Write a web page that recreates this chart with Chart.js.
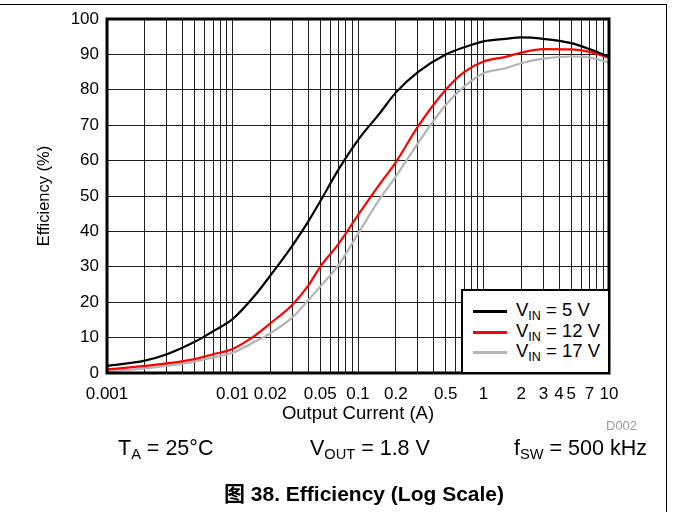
<!DOCTYPE html>
<html>
<head>
<meta charset="utf-8">
<script src="https://cdn.jsdelivr.net/npm/chart.js@4.4.1/dist/chart.umd.min.js"></script>
<style>
  html, body { margin: 0; padding: 0; background: #fff; }
  #wrap { position: relative; width: 673px; height: 512px; overflow: hidden; font-family: "Liberation Sans", Arial, sans-serif; color: #000; }
  #c { position: absolute; left: 0; top: 0; }
  .abs { position: absolute; white-space: nowrap; line-height: 1; }
  sub { font-size: 0.68em; vertical-align: -0.3em; line-height: 0; }
  #frameTop { position: absolute; left: 0; top: 4px; width: 667px; height: 0; border-top: 1px solid #000; }
  #frameRight { position: absolute; left: 666px; top: 4px; width: 0; height: 508px; border-left: 1px solid #000; }
  #legend { position: absolute; left: 461px; top: 289px; width: 145px; height: 81px; border: 2px solid #000; background: #fff; }
  .lrow { position: absolute; left: 0; height: 20px; }
  .lline { position: absolute; left: 10px; width: 34px; height: 3px; }
  .ltext { position: absolute; left: 53px; font-size: 18.5px; white-space: nowrap; line-height: 1; }
</style>
</head>
<body>
<div id="wrap">
  <canvas id="c" width="673" height="512"></canvas>
  <div id="frameTop"></div>
  <div id="frameRight"></div>
  <div id="legend"></div>
  <div class="abs" style="left:606px; top:419px; font-size:13px; color:#9a9a9a;">D002</div>
  <div class="abs" style="left:118px; top:438px; font-size:21.5px;">T<sub>A</sub> = 25°C</div>
  <div class="abs" style="left:310px; top:438px; font-size:21.5px;">V<sub>OUT</sub> = 1.8 V</div>
  <div class="abs" style="left:514px; top:438px; font-size:21.5px;">f<sub>SW</sub> = 500 kHz</div>
  <div class="abs" style="left:0; width:728px; text-align:center; top:483px; font-size:21px; font-weight:bold; font-family:'Liberation Sans', Arial, 'Noto Sans CJK SC', sans-serif;">图 38. Efficiency (Log Scale)</div>
</div>
<script>
// ---- data ----
const currentA = [0.001, 0.002, 0.003, 0.005, 0.007, 0.01, 0.015, 0.02, 0.03, 0.04, 0.05, 0.07, 0.1, 0.15, 0.2, 0.3, 0.5, 0.7, 1, 1.5, 2, 3, 5, 7, 10];
const eff5V  = [2.0, 3.5, 5.3, 8.8, 11.8, 15.2, 21.8, 27.5, 36.0, 42.7, 48.5, 57.5, 65.8, 73.5, 79.2, 85.0, 90.0, 92.0, 93.7, 94.4, 94.8, 94.4, 93.2, 91.5, 89.3];
const eff12V = [1.0, 2.0, 2.7, 3.9, 5.3, 6.8, 10.5, 14.0, 19.3, 24.6, 30.0, 36.5, 44.6, 53.5, 59.5, 69.6, 80.0, 85.0, 88.0, 89.3, 90.5, 91.5, 91.4, 90.7, 89.0];
const eff17V = [0.5, 1.3, 2.0, 3.2, 4.4, 5.7, 8.8, 11.2, 15.7, 20.5, 24.4, 30.5, 39.3, 49.3, 55.5, 64.9, 75.7, 80.9, 84.7, 86.1, 87.5, 88.8, 89.4, 89.1, 87.7];
const seriesVin = ['5', '12', '17'];
const seriesColors = ['#000000', '#ff0000', '#b4b4b4'];
const xTickLabels = [0.001, 0.01, 0.02, 0.05, 0.1, 0.2, 0.5, 1, 2, 3, 4, 5, 7, 10];
const yTicks = [0, 10, 20, 30, 40, 50, 60, 70, 80, 90, 100];

// grid positions on the log axis: 1..9 x each decade
const xGrid = [];
for (let e = -3; e <= 0; e++) {
  for (let m = 1; m <= 9; m++) xGrid.push(+(m * Math.pow(10, e)).toPrecision(3));
}
xGrid.push(10);

const allSeries = [eff5V, eff12V, eff17V];
const datasets = allSeries.map((s, i) => ({
  label: 'VIN = ' + seriesVin[i] + ' V',
  data: currentA.map((x, k) => ({ x: x, y: s[k] })),
  borderColor: seriesColors[i],
  backgroundColor: seriesColors[i],
  borderWidth: 2.2,
  pointRadius: 0,
  cubicInterpolationMode: 'monotone',
  fill: false
}));

// HTML legend built from series
const legend = document.getElementById('legend');
seriesVin.forEach((v, i) => {
  const top = [10, 31, 51][i];
  const row = document.createElement('div');
  row.className = 'lrow';
  row.style.top = top + 'px';
  row.innerHTML = '<div class="lline" style="top:9px;background:' + seriesColors[i] + '"></div>' +
    '<div class="ltext" style="top:0px;">V<sub>IN</sub> = ' + v + ' V</div>';
  legend.appendChild(row);
});

const frame = {
  id: 'frame',
  afterDraw(chart) {
    const a = chart.chartArea, ctx = chart.ctx;
    ctx.save();
    ctx.strokeStyle = '#000';
    ctx.lineWidth = 3;
    ctx.strokeRect(a.left, a.top, a.right - a.left, a.bottom - a.top);
    ctx.restore();
  }
};

const fontFam = '"Liberation Sans", Arial, sans-serif';

new Chart(document.getElementById('c'), {
  type: 'line',
  data: { datasets: datasets },
  plugins: [frame],
  options: {
    responsive: false,
    animation: false,
    layout: { padding: { left: 0, top: 19, right: 64, bottom: 87 } },
    plugins: { legend: { display: false }, tooltip: { enabled: false } },
    scales: {
      x: {
        type: 'logarithmic',
        min: 0.001, max: 10,
        afterBuildTicks(scale) { scale.ticks = xGrid.map(v => ({ value: v })); },
        afterFit(scale) { scale.height = 52; },
        ticks: {
          autoSkip: false, maxRotation: 0, minRotation: 0, padding: 11,
          color: '#000', font: { family: fontFam, size: 17 },
          callback(value) {
            const hit = xTickLabels.find(t => Math.abs(t - value) / t < 1e-6);
            return hit === undefined ? '' : String(hit);
          }
        },
        grid: { color: '#1e1e1e', lineWidth: 1, drawTicks: false },
        border: { display: false },
        title: { display: true, text: 'Output Current (A)', color: '#000', font: { family: fontFam, size: 18.5 }, padding: { top: 0, bottom: 0 } }
      },
      y: {
        type: 'linear',
        min: 0, max: 100,
        afterBuildTicks(scale) { scale.ticks = yTicks.map(v => ({ value: v })); },
        afterFit(scale) { scale.width = 107; },
        ticks: { padding: 8, color: '#000', font: { family: fontFam, size: 17 } },
        grid: { color: '#1e1e1e', lineWidth: 1, drawTicks: false },
        border: { display: false },
        title: { display: true, text: 'Efficiency (%)', color: '#000', font: { family: fontFam, size: 16.5 }, padding: { top: 35, bottom: 0 } }
      }
    }
  }
});
</script>
</body>
</html>
